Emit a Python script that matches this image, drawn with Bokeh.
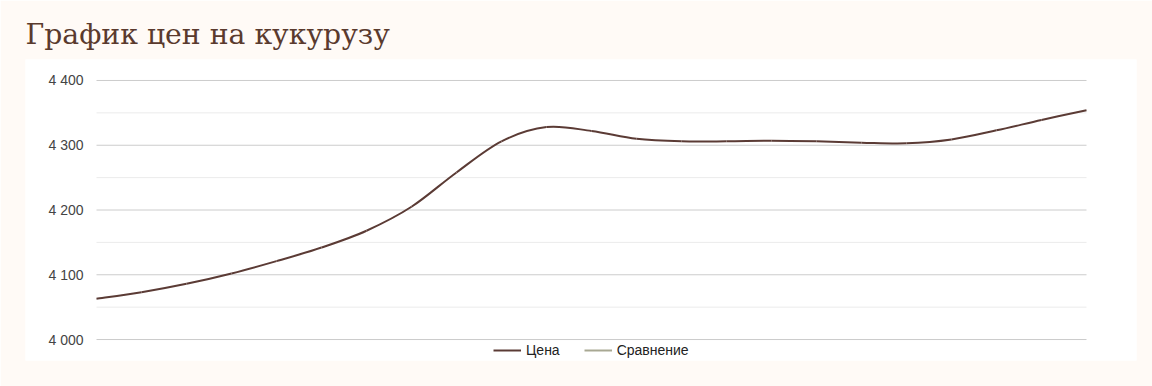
from bokeh.plotting import figure
from bokeh.models import Range1d, Legend, LegendItem
from bokeh.core.properties import value
from bokeh.embed import file_html
from bokeh.resources import INLINE

x_idx = list(range(23))
price = [4063, 4073, 4086, 4102, 4121, 4142, 4168, 4205, 4258, 4306, 4328, 4322,
         4310, 4306, 4306, 4307, 4306, 4304, 4303, 4309, 4323, 4339, 4354]
major_ticks = [4000, 4100, 4200, 4300, 4400]
minor_ticks = [4050, 4150, 4250, 4350]
tick_labels = ["4 000", "4 100", "4 200", "4 300", "4 400"]
series_names = ["Цена", "Сравнение"]
series_colors = ["#5b3b35", "#a8a893"]

CREAM = "#fffaf6"
STEP = 45.0  # px per observation
p = figure(width=1152, height=386, output_backend="svg", toolbar_location=None,
           x_range=Range1d(-71 / STEP, 22 + 50 / STEP), y_range=Range1d(3967.6, 4432.4),
           min_border_left=25, min_border_right=16, min_border_top=59, min_border_bottom=26,
           background_fill_color="white", border_fill_color=CREAM, outline_line_color=None)
p.xaxis.visible = False
p.yaxis.visible = False
p.xgrid.visible = False
p.ygrid.visible = False

p.title.text = "График цен на кукурузу"
p.title.text_font = "DejaVu Serif"
p.title.text_font_size = "28.3px"
p.title.text_font_style = "normal"
p.title.text_color = "#5a3a2e"
p.title.align = "left"
p.title.standoff = 17

x0 = x_idx[0]
x1 = x_idx[-1]
p.segment(x0=[x0] * len(minor_ticks), x1=[x1] * len(minor_ticks), y0=minor_ticks, y1=minor_ticks,
          line_color="#ebebeb", line_width=1)
p.segment(x0=[x0] * len(major_ticks), x1=[x1] * len(major_ticks), y0=major_ticks, y1=major_ticks,
          line_color="#cccccc", line_width=1)
p.text(x=[x0] * len(major_ticks), y=major_ticks, text=tick_labels, x_offset=-13,
       text_align="right", text_baseline="middle", text_font=value("Liberation Sans"),
       text_font_size="14px", text_color="#444444")

# smooth curve via cubic bezier segments built from the data points
n = len(price)
bx0, by0, bx1, by1, cx0, cy0, cx1, cy1 = [], [], [], [], [], [], [], []
for i in range(n - 1):
    pm = i - 1 if i > 0 else i
    pp = i + 2 if i + 2 < n else i + 1
    t0x = (x_idx[i + 1] - x_idx[pm]) / 2.0
    t0y = (price[i + 1] - price[pm]) / 2.0
    t1x = (x_idx[pp] - x_idx[i]) / 2.0
    t1y = (price[pp] - price[i]) / 2.0
    bx0.append(x_idx[i]); by0.append(price[i])
    bx1.append(x_idx[i + 1]); by1.append(price[i + 1])
    cx0.append(x_idx[i] + t0x / 3.0); cy0.append(price[i] + t0y / 3.0)
    cx1.append(x_idx[i + 1] - t1x / 3.0); cy1.append(price[i + 1] - t1y / 3.0)
p.bezier(x0=bx0, y0=by0, x1=bx1, y1=by1, cx0=cx0, cy0=cy0, cx1=cx1, cy1=cy1,
         line_color=series_colors[0], line_width=2)

nan = float("nan")
r1 = p.line(x=[nan, nan], y=[nan, nan], line_color=series_colors[0], line_width=2)
r2 = p.line(x=[nan, nan], y=[nan, nan], line_color=series_colors[1], line_width=2)
legend = Legend(items=[LegendItem(label=series_names[0], renderers=[r1]),
                       LegendItem(label=series_names[1], renderers=[r2])],
                orientation="horizontal", location=(468, 0),
                glyph_width=28, glyph_height=20, label_height=20, label_standoff=5,
                spacing=24, padding=0, margin=0,
                background_fill_alpha=0, border_line_color=None,
                label_text_font="Liberation Sans", label_text_font_size="14px",
                label_text_color="#222222")
p.add_layout(legend, "center")

open("out.html", "w").write(file_html(p, INLINE))
